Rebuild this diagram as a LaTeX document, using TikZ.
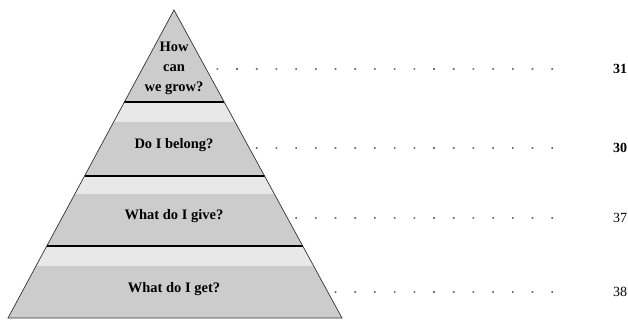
\documentclass[tikz,border=0pt]{standalone}
\usepackage{fontspec}
\setmainfont{Liberation Serif}
\usetikzlibrary{calc}
\tikzset{
  level/.style={font=\bfseries\fontsize{14.5}{20}\selectfont, align=center, inner sep=1pt},
  num/.style={font=\fontsize{14}{16}\selectfont, inner sep=1pt},
  dotrow/.style={draw=black!55, line width=1.6pt, dash pattern=on 1.6pt off 18.1pt},
  divider/.style={line width=1.6pt, black}
}
\begin{document}
\begin{tikzpicture}[x=1pt,y=-1pt]
	\useasboundingbox (0,0) rectangle (628,320);
	\coordinate (top) at (174,10);
	\coordinate (bl) at (8,318);
	\coordinate (br) at (342,318);
	% body and light bands
	\fill[gray!40] (top) -- (bl) -- (br) -- cycle;
	\foreach \ya/\yb in {102/122,176/194,246/266}{
		\fill[gray!18] ($(top)!{(\ya-10)/308}!(bl)$) -- ($(top)!{(\yb-10)/308}!(bl)$)
			-- ($(top)!{(\yb-10)/308}!(br)$) -- ($(top)!{(\ya-10)/308}!(br)$) -- cycle;
		\draw[divider] ($(top)!{(\ya-10)/308}!(bl)$) -- ($(top)!{(\ya-10)/308}!(br)$);
	}
	\draw[line width=0.7pt, black!80] (top) -- (bl) -- (br) -- cycle;
	% questions
	\node[level] (q1) at (174,68) {How\\can\\we grow?};
	\node[level] (q2) at (174,145) {Do I belong?};
	\node[level] (q3) at (174,216) {What do I give?};
	\node[level] (q4) at (174,289) {What do I get?};
	% dotted leaders and numbers
	\foreach \i/\y/\t in {1/69/\textbf{31},2/148/\textbf{30},3/218/37,4/292/38}{
		\coordinate (e\i) at ($(top)!{(\y-10)/308}!(br)$);
		\coordinate (d\i) at (553,\y);
		\node[num] (n\i) at (620,\y) {\t};
		\draw[dotrow] (d\i) -- ($(e\i)+(6,0)$);
	}
\end{tikzpicture}
\end{document}
